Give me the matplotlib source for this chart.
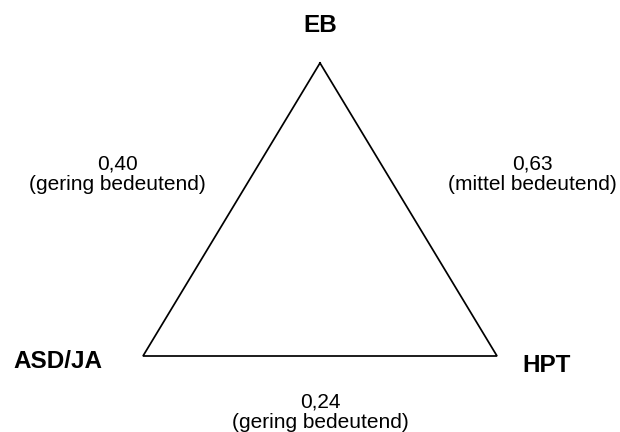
import matplotlib.pyplot as plt

plt.rcParams['font.family'] = ['Liberation Sans', 'DejaVu Sans']

# Knoten und Kanten
nodes = ['EB', 'ASD/JA', 'HPT']
edge_values = ['0,40', '0,63', '0,24']
edge_notes = ['gering bedeutend', 'mittel bedeutend', 'gering bedeutend']

# Layout (Pixelkoordinaten, Grundlinie der Texte)
vertex_xy = [(320, 63), (143, 356), (497, 356)]
node_label_xy = [(320, 32), (58, 368), (547, 372)]
edge_label_xy = [(117, 169), (532, 169), (320, 407)]
line_gap = 21

fig = plt.figure(figsize=(6.2, 4.32), dpi=100)
ax = fig.add_axes([0, 0, 1, 1])
ax.set_xlim(0, 620)
ax.set_ylim(432, 0)
ax.axis('off')

xs = [p[0] for p in vertex_xy] + [vertex_xy[0][0]]
ys = [p[1] for p in vertex_xy] + [vertex_xy[0][1]]
ax.plot(xs, ys, color='black', lw=1.25, solid_joinstyle='miter')

for name, (x, y) in zip(nodes, node_label_xy):
    ax.text(x, y, name, ha='center', va='baseline', fontsize=17.5, fontweight='bold')

for val, note, (x, y) in zip(edge_values, edge_notes, edge_label_xy):
    ax.text(x, y, val, ha='center', va='baseline', fontsize=15)
    ax.text(x, y + line_gap, f'({note})', ha='center', va='baseline', fontsize=15)

fig.savefig('out.png', dpi=100)
